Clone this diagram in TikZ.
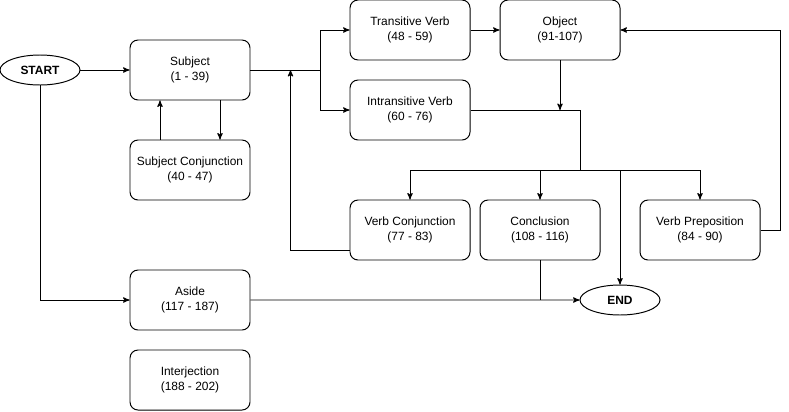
\documentclass[tikz,border=0pt]{standalone}
\usepackage{fontspec}
\setmainfont{Liberation Sans}
\usetikzlibrary{arrows,shapes.geometric}

\begin{document}
\begin{tikzpicture}[>=stealth',auto,node distance=2.5cm,line width=0.7pt,
  every node/.style={font=\fontsize{8.5pt}{10.7pt}\selectfont},
  part/.style={draw,rounded corners=0.2cm,minimum width=3cm,minimum height=1.5cm,align=center,inner sep=0pt},
  term/.style={draw,ellipse,minimum width=2cm,minimum height=0.75cm,inner sep=0pt,font=\fontsize{8.5pt}{10.7pt}\selectfont\bfseries}]

  \useasboundingbox (0,0) rectangle (19.725,-10.275);

  \node[part]	(Subject) at (4.75,-1.75) {Subject\\(1 - 39)};
  \node[term]	(START) [left of=Subject, node distance=3.75cm] {START};
  \node[part]	(SubjConj) [below of=Subject] {Subject Conjunction\\(40 - 47)};
  \node[part]	(Aside) [below of=Subject, node distance=5.75cm] {Aside\\(117 - 187)};
  \node[part]	(Interjection) [below of=Aside, node distance=2cm] {Interjection\\(188 - 202)};
  \node[part]	(TransVerb) at (10.25,-0.75) {Transitive Verb\\(48 - 59)};
  \node[part]	(IntransVerb) [below of=TransVerb, node distance=2cm] {Intransitive Verb\\(60 - 76)};
  \node[part]	(Object) [right of=TransVerb, node distance=3.75cm] {Object\\(91-107)};
  \node[part]	(VerbConj) [below of=IntransVerb, node distance=3cm] {Verb Conjunction\\(77 - 83)};
  \node[part]	(Conclusion) [right of=VerbConj, node distance=3.25cm] {Conclusion\\(108 - 116)};
  \node[part]	(VerbPrep) [right of=Conclusion, node distance=4cm] {Verb Preposition\\(84 - 90)};
  \node[term]	(END) at (15.5,-7.5) {END};

  \coordinate (split) at ([xshift=1.75cm]Subject.east);
  \coordinate (bus) at (14.5,-4.25);

 \path[->]
 (START)
	 edge (Subject)
 ([xshift=0.75cm]Subject.south)
	 edge ([xshift=0.75cm]SubjConj.north)
 ([xshift=-0.75cm]SubjConj.north)
	 edge ([xshift=-0.75cm]Subject.south)
 (TransVerb)
	 edge (Object)
 (Object.south)
	 edge (Object.south |- IntransVerb.east)
 (Aside)
	 edge (END)
 ; % end of \path

 \draw[->] (START.south) |- (Aside.west);
 \draw (Subject.east) -- (split);
 \draw[->] (split) |- (TransVerb.west);
 \draw[->] (split) |- (IntransVerb.west);
 \draw[->] ([yshift=-0.5cm]VerbConj.west) -| ([xshift=1cm]Subject.east);
 \draw (IntransVerb.east) -| (bus);
 \draw[->] (bus) -| (VerbConj.north);
 \draw[->] (bus) -| (Conclusion.north);
 \draw[->] (bus) -| (END.north);
 \draw[->] (bus) -| (VerbPrep.north);
 \draw[->] (VerbPrep.east) -- ++(0.5,0) |- (Object.east);
 \draw (Conclusion.south) -- (Conclusion.south |- END.west);

\end{tikzpicture}
\end{document}
